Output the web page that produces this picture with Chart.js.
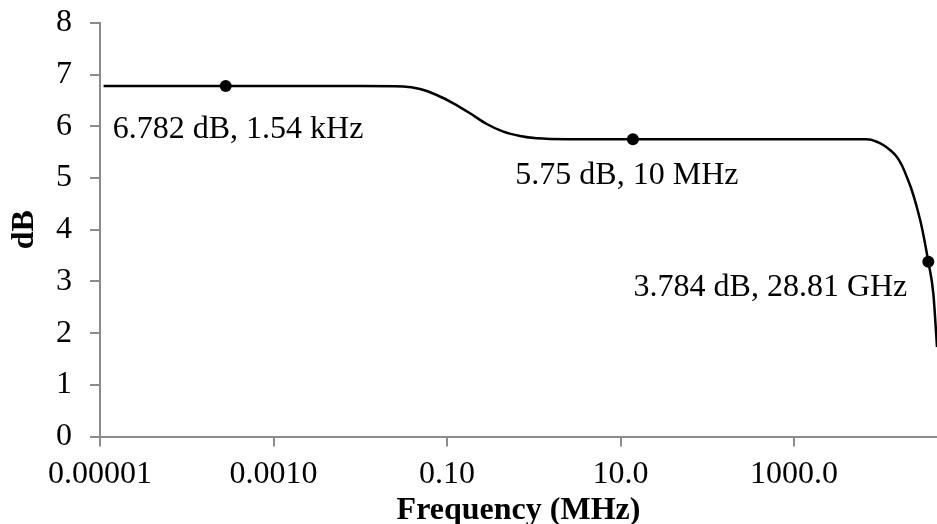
<!DOCTYPE html>
<html>
<head>
<meta charset="utf-8">
<script src="https://cdn.jsdelivr.net/npm/chart.js@4.4.0/dist/chart.umd.min.js"></script>
<style>
  html, body { margin: 0; padding: 0; background: #ffffff; }
  #wrap { width: 937px; height: 524px; position: relative; }
</style>
</head>
<body>
<div id="wrap"><canvas id="c" width="937" height="524"></canvas></div>
<script>
// ---- Data ----
const curveFreqMHz = [1.1e-5, 0.0003, 0.01, 0.0313, 0.0489, 0.076, 0.1183, 0.1841, 0.287, 0.446, 0.694, 1.081, 2.618, 100, 3000, 6887, 8980, 10690, 12790, 15280, 17450, 19920, 22750, 25960, 29650, 35330, 40360, 44500];
const curveDB      = [6.78,   6.78,   6.78, 6.772,  6.723,  6.607, 6.446,  6.253,  6.046, 5.897, 5.813, 5.769, 5.752, 5.75, 5.75, 5.749, 5.703, 5.639, 5.542, 5.413, 5.252, 5.026, 4.769, 4.446, 4.059, 3.382, 2.770, 1.73];

const markerFreqMHz = [0.000281, 13.9, 35330];
const markerDB      = [6.78, 5.75, 3.382];
const markerLabels  = ["6.782 dB, 1.54 kHz", "5.75 dB, 10 MHz", "3.784 dB, 28.81 GHz"];

const xTickValues = [0.00001, 0.001, 0.1, 10, 1000];
const xTickLabels = ["0.00001", "0.0010", "0.10", "10.0", "1000.0"];
const xTitle = "Frequency (MHz)";
const yTitle = "dB";

// ---- Chart ----
const FONT = "'Liberation Serif', 'Times New Roman', serif";
const AXIS_GRAY = '#8c8c8c';

const curvePoints = curveFreqMHz.map((x, i) => ({ x: x, y: curveDB[i] }));
const markerPoints = markerFreqMHz.map((x, i) => ({ x: x, y: markerDB[i] }));

const labelPlugin = {
  id: 'markerLabels',
  afterDatasetsDraw(chart) {
    const ctx = chart.ctx;
    const xs = chart.scales.x, ys = chart.scales.y;
    // placement of each label relative to its marker (pixels)
    const place = [
      { dx: -113, dy: 52, align: 'left' },
      { dx: -6,   dy: 45, align: 'center' },
      { dx: -21,  dy: 34, align: 'right' }
    ];
    ctx.save();
    ctx.font = "32px " + FONT;
    ctx.fillStyle = '#000000';
    ctx.textBaseline = 'alphabetic';
    markerPoints.forEach((p, i) => {
      const px = xs.getPixelForValue(p.x);
      const py = ys.getPixelForValue(p.y);
      ctx.textAlign = place[i].align;
      ctx.fillText(markerLabels[i], px + place[i].dx, py + place[i].dy);
    });
    ctx.restore();
  }
};

new Chart(document.getElementById('c'), {
  type: 'scatter',
  data: {
    datasets: [
      {
        label: 'curve',
        data: curvePoints,
        showLine: true,
        borderColor: '#000000',
        borderWidth: 2.5,
        pointRadius: 0,
        cubicInterpolationMode: 'monotone',
        fill: false
      },
      {
        label: 'markers',
        data: markerPoints,
        showLine: false,
        pointRadius: 6,
        pointBackgroundColor: '#000000',
        pointBorderColor: '#000000',
        pointBorderWidth: 0,
        clip: false
      }
    ]
  },
  options: {
    responsive: false,
    animation: false,
    devicePixelRatio: 1,
    layout: { autoPadding: false, padding: { top: 23, right: 0, bottom: 0, left: 0 } },
    plugins: {
      legend: { display: false },
      tooltip: { enabled: false },
      title: { display: false }
    },
    scales: {
      x: {
        type: 'logarithmic',
        min: 0.00001,
        max: 44500,
        afterBuildTicks: (scale) => { scale.ticks = xTickValues.map(v => ({ value: v })); },
        afterFit: (scale) => { scale.height = 87.5; scale.paddingLeft = 0; scale.paddingRight = 0; },
        ticks: {
          autoSkip: false,
          maxRotation: 0,
          minRotation: 0,
          padding: 9,
          color: '#000000',
          font: { family: FONT, size: 32 },
          callback: (value, index) => xTickLabels[index]
        },
        grid: { display: true, drawOnChartArea: false, drawTicks: true, tickLength: 10, color: AXIS_GRAY, lineWidth: 2 },
        border: { display: true, color: AXIS_GRAY, width: 2 },
        title: {
          display: true,
          text: xTitle,
          color: '#000000',
          font: { family: FONT, size: 32, weight: 'bold' },
          padding: { top: 0, bottom: -6 }
        }
      },
      y: {
        type: 'linear',
        min: 0,
        max: 8,
        afterFit: (scale) => { scale.width = 100; scale.paddingTop = 0; scale.paddingBottom = 0; },
        ticks: {
          stepSize: 1,
          padding: 18,
          color: '#000000',
          font: { family: FONT, size: 32 }
        },
        grid: { display: true, drawOnChartArea: false, drawTicks: true, tickLength: 10, color: AXIS_GRAY, lineWidth: 2 },
        border: { display: true, color: AXIS_GRAY, width: 2 },
        title: {
          display: true,
          text: yTitle,
          color: '#000000',
          font: { family: FONT, size: 32, weight: 'bold' },
          padding: { top: 6, bottom: 0 }
        }
      }
    }
  },
  plugins: [labelPlugin]
});
</script>
</body>
</html>
